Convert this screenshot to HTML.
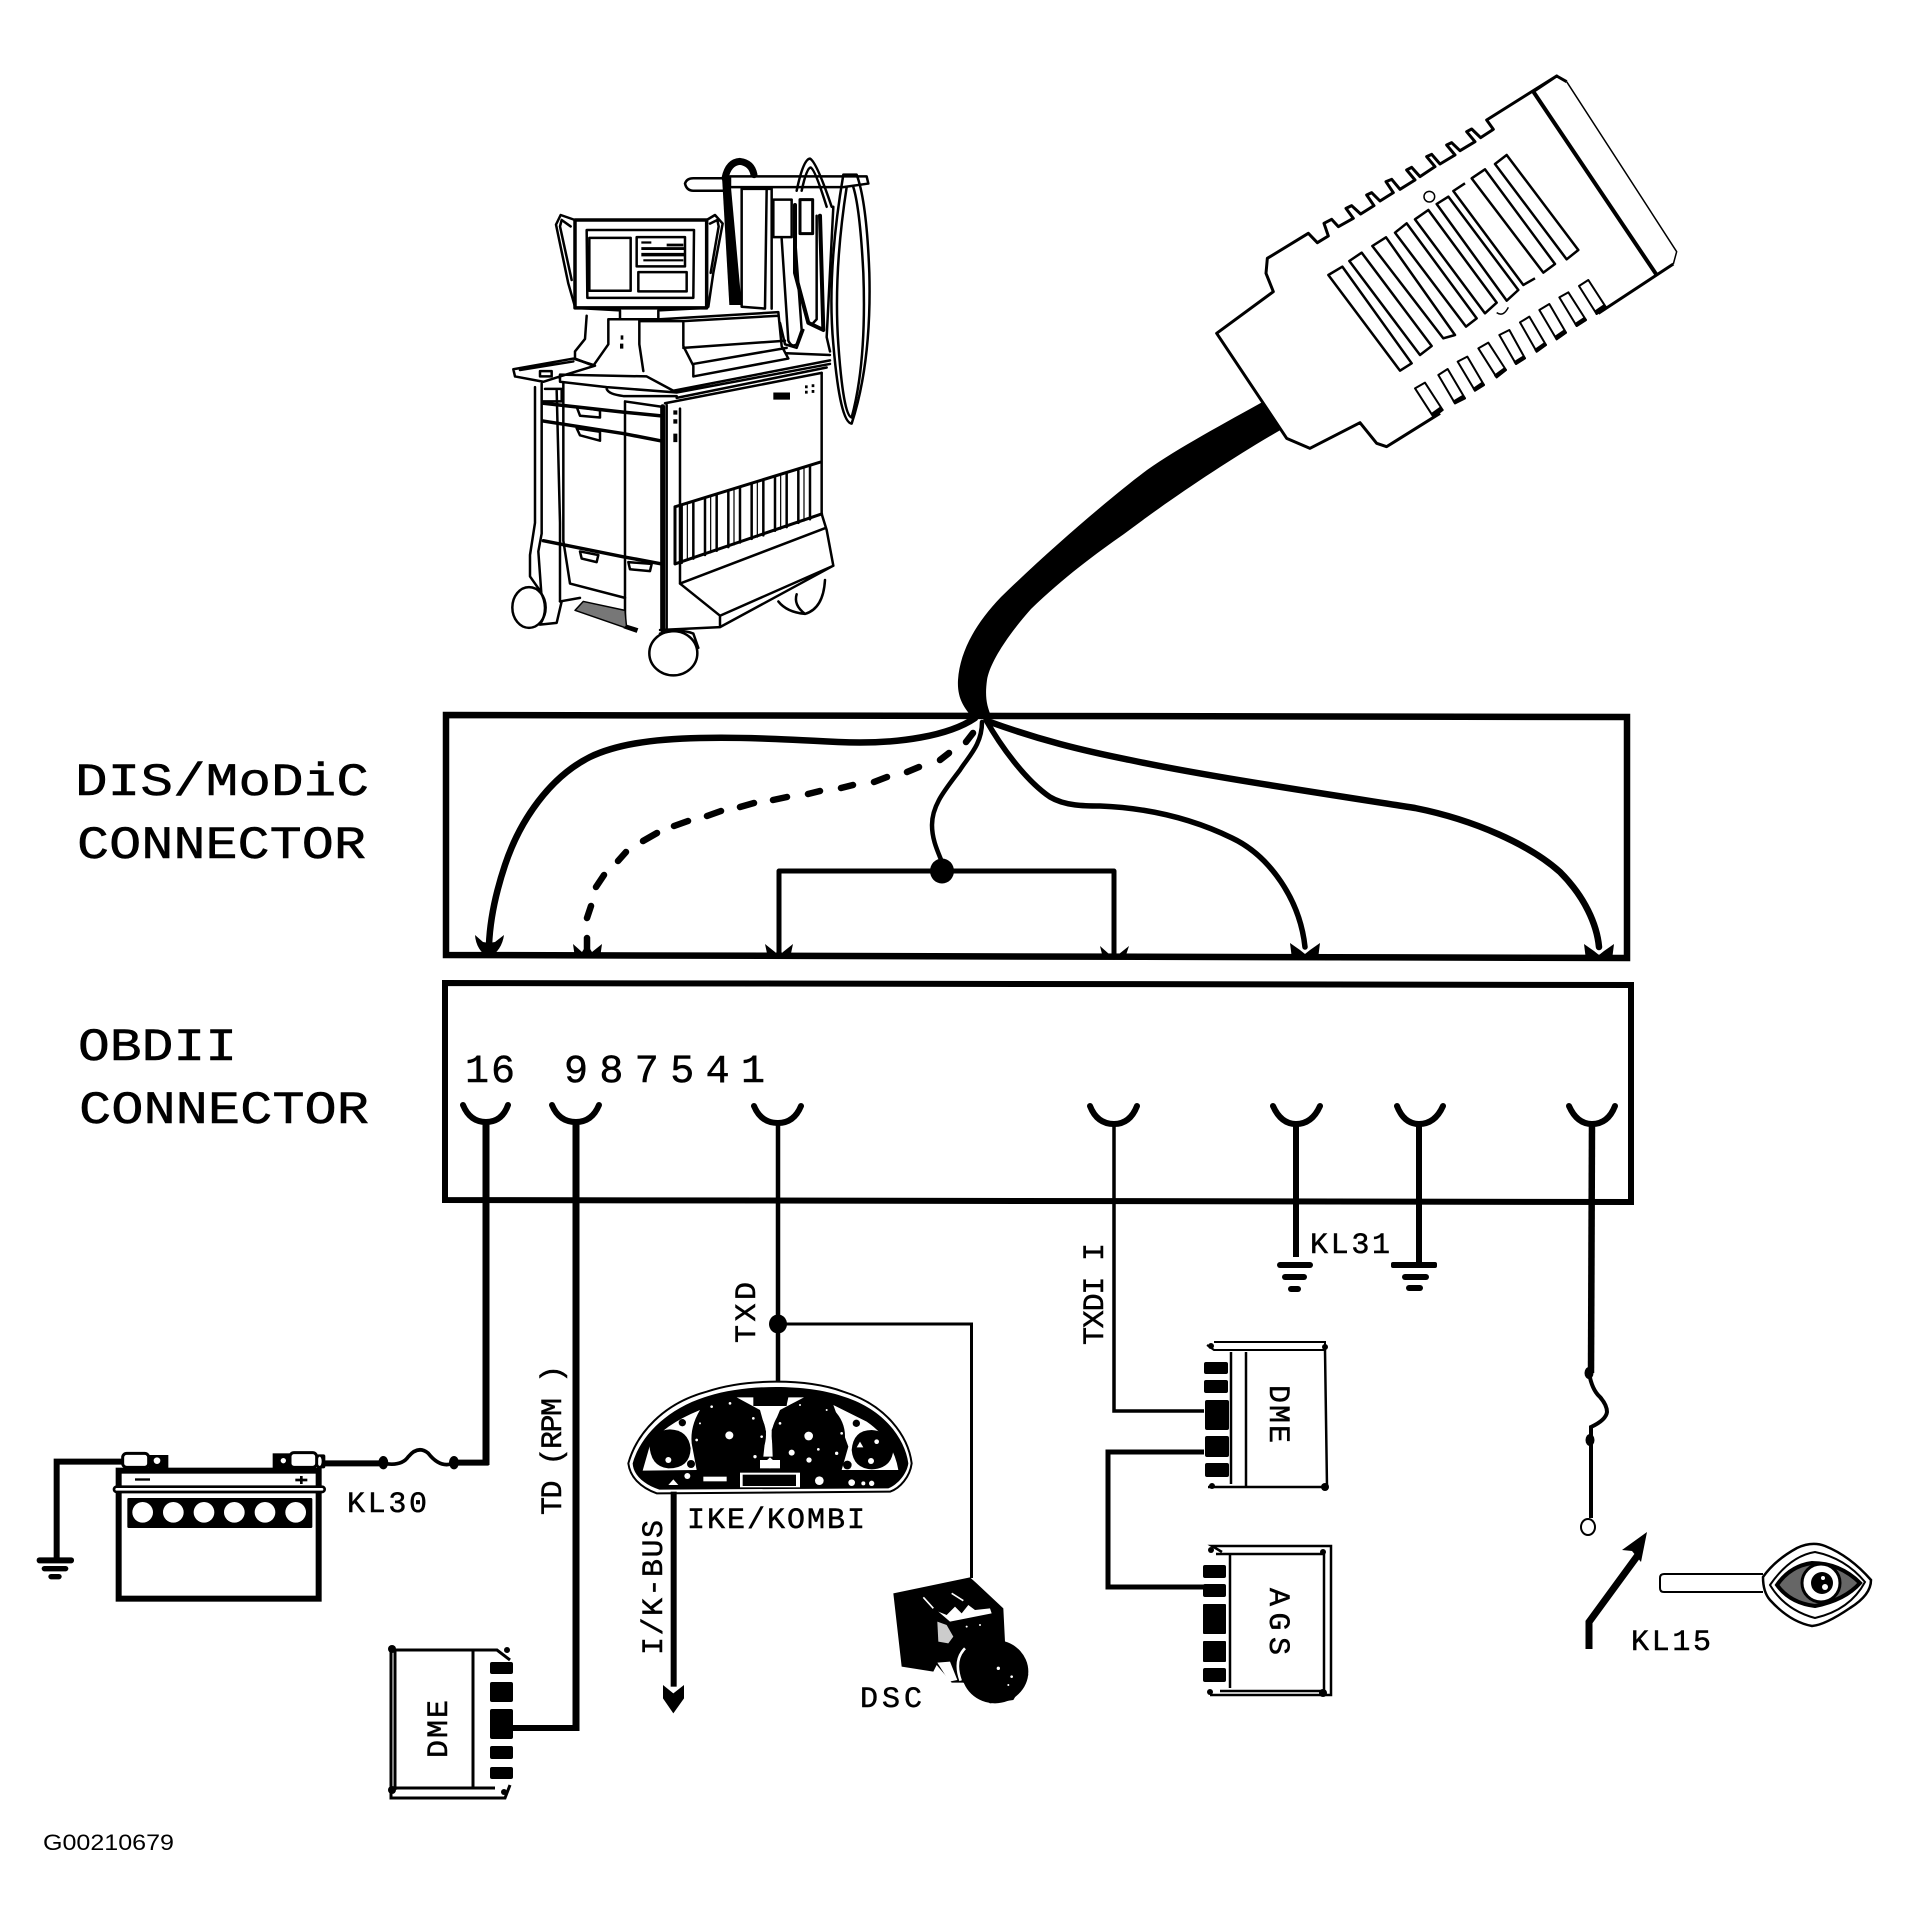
<!DOCTYPE html>
<html><head><meta charset="utf-8"><style>
html,body{margin:0;padding:0;background:#fff}
svg{display:block}
.n *{vector-effect:non-scaling-stroke}
text{font-family:"Liberation Mono",monospace;fill:#000;stroke:#000;stroke-width:.5px}
</style></head><body>
<svg width="1909" height="1927" viewBox="0 0 1909 1927" xmlns="http://www.w3.org/2000/svg">
<rect width="1909" height="1927" fill="#fff"/>

<!-- Cart -->
<g class="n" transform="translate(480,130) scale(.33333,.35714)" fill="none" stroke="#000" stroke-width="2.5" stroke-linejoin="round" stroke-linecap="round">
<path stroke-width="3.5" d="M285,252H680V498H285Z"/>
<path stroke-width="2.5" d="M320,280H642L640,470H322Z M328,302H452V450H328Z M470,300H615V382H470Z M475,398H620V452H475Z"/>
<path stroke-width="2.5" d="M285,252 L242,238 L228,265 L265,430 L285,495 M272,270 L245,252 L240,270 L275,420 M680,252 L705,238 L728,262 L700,400 L685,495 M690,262 L712,252 L716,270 L692,400"/>
<path fill="#000" stroke="none" d="M484,312h30v6h-30zM484,328h130v8h-130zM484,344h130v10h-130zM490,362h120v6h-120zM560,318h50v8h-50z"/>
<path d="M285,498 L420,505 V530 H535 V505 L680,498 M320,520 L315,585 L285,620 L285,640 L340,660 L385,600 V530 H478 V600 L490,675 M478,535 H610 V605 L640,660 V690 M540,530 L895,510 L905,605 L925,640 L640,690 M610,535 L895,520 M610,610 L915,590 M640,655 L920,610"/>
<path fill="#000" stroke="none" d="M422,575h8v12h-8zM420,598h10v14h-10z"/>
<path stroke-width="7" d="M735,135 Q745,90 780,88 Q815,92 822,125"/>
<path fill="#000" stroke="none" d="M726,130 L750,130 L785,490 L748,490 Z"/>
<path d="M785,165 H860 L855,500 L785,495 Z M860,165 L875,165 V500 M750,130 H1160 L1165,150 L1090,160 L750,160 Z M615,150 Q620,135 640,135 H745 V170 H640 Q620,170 615,150Z"/>
<path stroke-width="2.5" d="M880,195 H935 V300 H880 Z M905,305 L925,590 Q935,610 950,600 L965,560 L945,300"/>
<path d="M900,540 L915,600 L950,610 L970,560"/>
<path stroke-width="3" d="M960,195 H998 V290 H960 Z"/>
<path stroke-width="4" d="M945,210 L945,400 L985,540 L1030,560 L1020,240"/>
<path d="M1010,240 L1010,530 L1000,540 M950,170 Q970,80 990,80 Q1010,90 1055,215 M965,170 Q980,105 992,105 Q1005,110 1040,215 M1060,215 L1040,580 L1050,620"/>
<path stroke-width="2.5" d="M1090,125 Q1040,400 1060,600 Q1080,820 1115,822 Q1175,650 1168,400 Q1160,200 1130,125 Z"/>
<path d="M1100,160 Q1060,400 1075,600 Q1090,800 1115,805 Q1160,650 1150,400 Q1140,220 1120,160"/>

<path stroke-width="2.5" d="M100,670 L280,640 L340,658 M105,690 L190,705 L240,690 L345,660 M120,672 L280,648 M100,670 L105,690 M240,685 L500,690 L580,730 L1050,645 M240,685 V705 L380,720 L590,735 L1050,655 M380,725 Q385,740 430,745 L590,745 M555,765 L1025,680 M590,750 L1040,665 M920,625 L1050,630"/>
<path fill="#fff" d="M180,675h35v15h-35z"/>
<path d="M165,720 V1100 L150,1190 V1250 L180,1290 M185,710 V1130 L175,1180 L185,1310 M230,730 L240,1100 V1320 M250,710 V1150 L270,1270 L435,1310 M195,725 H245 V760 H190"/>
<path stroke-width="3.5" d="M190,765 L430,790 L540,800 M190,815 L430,850 L540,870 M190,1150 L430,1195 L545,1215"/>
<path d="M290,775 L360,785 L360,805 L300,800 Z M290,835 L360,845 L360,870 L300,855 Z M300,1180 L355,1190 L350,1210 L305,1200 Z M445,1210 L515,1215 L510,1235 L450,1230 Z M435,760 V1390 M435,760 L545,775"/>
<path stroke-width="5" d="M548,775 V1400"/>
<path d="M600,780 V1270 M560,770 V1400 M1025,680 V1075 L1040,1120 L1060,1220 L720,1392 L540,1400 M600,1270 L1035,1115 M600,1270 L720,1360 V1392 M720,1360 L1060,1220 M240,1320 L300,1310"/>
<path stroke-width="3" d="M585,1055 L1020,930 M585,1215 L1025,1075 M585,1055 V1215"/>
<path stroke-width="2.5" d="M605,1050V1212M640,1040V1200M675,1030V1190M710,1020V1178M745,1010V1168M780,1000V1155M815,990V1145M850,980V1135M885,970V1122M920,960V1112M955,950V1100M990,940V1090"/>
<path d="M622,1045V1205M692,1025V1184M762,1005V1162M832,985V1140M902,965V1118M972,945V1095" stroke-width="1.2"/>
<path fill="#777" stroke="#000" stroke-width="1.5" d="M310,1320 L435,1345 L440,1395 L285,1345 Z"/>
<path fill="#000" stroke="none" d="M880,735h50v20h-50zM580,785h12v12h-12zM580,810h12v12h-12zM580,850h12v24h-12zM975,715h8v8h-8zM995,712h8v8h-8zM975,730h8v8h-8zM995,728h8v8h-8z"/>
<path fill="#000" stroke="none" d="M440,1385 L475,1395 L470,1408 L430,1395Z"/>
<ellipse cx="147" cy="1337" rx="50" ry="57" fill="#fff" stroke-width="2.5"/>
<path d="M180,1290 Q210,1340 180,1385 L230,1380 L245,1320"/>
<path stroke-width="2.5" d="M895,1320 Q920,1350 975,1355 Q1030,1340 1035,1260 M950,1300 Q940,1330 975,1355"/>
<ellipse cx="580" cy="1465" rx="72" ry="62" fill="#fff" stroke-width="2.5"/>
<path d="M540,1410 Q600,1395 640,1410 L655,1450"/>
</g>

<!-- Cable -->
<path fill="#000" d="M1266,400 C1225,423 1178,448 1147,470 C1112,496 1047,552 1001,597 C977,622 960,650 958,680 C957,698 964,708 973,718 L992,718 C986,705 985,695 987,680 C990,662 1008,635 1031,609 C1063,578 1098,552 1124,534 C1165,503 1228,460 1284,428 Z"/>

<!-- OBD diagnostic connector head -->
<g class="n" transform="translate(1180,60) scale(.33333)" fill="none" stroke="#000" stroke-width="3" stroke-linejoin="round">
<path fill="#fff" stroke="none" d="M110,820 L280,695 L258,640 L262,595 L385,520 L1130,48 L1160,65 L1490,575 L1480,612 L620,1160 L590,1150 L540,1088 L390,1165 L320,1135Z"/>
<path d="M1160,65 L1490,575 L1480,612" stroke-width="1.5"/>
<path d="M1480,612 L1255,760"/>
<path d="M1130,48 L1160,65 M1060,95 L1130,48 L920,180 L940,208 L902,233 L875,207 L860,215 L885,245 L840,272 L815,248 L800,255 L825,285 L780,312 L755,283 L740,290 L765,320 L720,350 L695,322 L680,330 L705,360 L660,388 L635,358 L618,365 L640,398 L600,423 L575,398 L560,405 L582,437 L542,462 L515,437 L498,445 L520,475 L475,500 L455,478 L432,490 L445,528 L412,548 L385,520 L262,595 L258,640 L280,695 L110,820 L320,1135 L390,1165 L540,1088 L590,1150 L620,1160 L780,1060"/>
<path d="M1060,95 L1430,645" stroke-width="4"/>
<path stroke-width="2.5" d="M445,645 L487,620 L695,910 L660,932 Z M508,603 L545,578 L755,858 L720,885 Z M577,558 L618,532 L825,825 L790,835 Z M645,518 L680,490 L890,775 L858,800 Z M705,478 L745,450 L950,728 L915,760 Z M770,432 L805,410 L1015,690 L980,722 Z M855,370 L820,393 L1030,675 L1065,655 M875,355 L915,328 L1125,612 L1090,638 Z M945,312 L980,285 L1195,570 L1160,598 Z"/>
<circle cx="748" cy="410" r="16" stroke-width="1.5"/>
<path d="M950,758 Q970,772 985,742" stroke-width="1.5"/>
<g stroke-width="2">
<path d="M705,985 L735,968 L788,1050 L760,1070 Z"/><path fill="#000" d="M755,1062 L780,1044 L788,1050 L762,1070Z"/>
<path d="M775,945 L803,927 L855,1015 L825,1030 Z"/><path fill="#000" d="M821,1024 L848,1008 L855,1015 L825,1030Z"/>
<path d="M833,905 L862,890 L912,975 L885,992 Z"/><path fill="#000" d="M881,986 L907,968 L912,975 L885,992Z"/>
<path d="M895,865 L925,848 L978,930 L950,952 Z"/><path fill="#000" d="M945,946 L972,926 L978,930 L950,952Z"/>
<path d="M958,825 L988,810 L1035,895 L1008,912 Z"/><path fill="#000" d="M1004,906 L1030,890 L1035,895 L1008,912Z"/>
<path d="M1020,787 L1048,770 L1098,855 L1070,875 Z"/><path fill="#000" d="M1066,869 L1093,850 L1098,855 L1070,875Z"/>
<path d="M1078,750 L1108,732 L1158,818 L1130,838 Z"/><path fill="#000" d="M1126,830 L1152,812 L1158,818 L1130,838Z"/>
<path d="M1138,712 L1165,697 L1218,780 L1190,798 Z"/><path fill="#000" d="M1186,792 L1213,774 L1218,780 L1190,798Z"/>
<path d="M1197,678 L1225,660 L1278,742 L1250,762 Z"/><path fill="#000" d="M1246,754 L1272,736 L1278,742 L1250,762Z"/>
</g>
</g>

<!-- DIS box -->
<g fill="none" stroke="#000" stroke-linecap="round" stroke-linejoin="round">
<path d="M446,715 L1627,717 V958 L446,955 Z" stroke-width="6.5" stroke-linejoin="miter"/>
<path stroke-width="6.5" d="M975,718 C950,735 900,745 838,742 C780,739 740,737 700,738 C650,739 615,745 590,757 C550,777 520,820 505,865 C495,895 490,920 489,945"/>
<path stroke-width="4.5" d="M982,722 C982,745 968,757 960,770 C945,790 932,805 932,825 C932,840 938,852 942,862"/>
<path stroke-width="5.5" d="M986,720 C1000,745 1025,780 1050,797 C1065,806 1085,806 1100,806 C1150,808 1195,820 1232,838 C1270,856 1300,900 1305,947"/>
<path stroke-width="6.5" d="M990,722 C1040,740 1080,750 1130,760 C1200,775 1300,790 1415,808 C1475,820 1530,845 1560,872 C1585,897 1597,925 1599,947"/>
<path stroke-width="6.5" d="M966,742L973,733M940,760L949,753M907,772L919,767M874,782L887,777M841,788L853,785M808,794L820,791M773,800L787,797M740,807L754,803M707,816L721,811M674,826L688,821M643,841L657,833M618,861L626,852M596,887L604,875M587,918L591,906M587,938V953"/>
<path stroke-width="5" stroke-linecap="butt" d="M779,955 V871 H1114 V956"/>
</g>
<ellipse cx="942" cy="871" rx="12" ry="12.5" fill="#000"/>
<g fill="#000">
<path d="M475,935 Q476,950 489,958 Q502,950 504,935 L495,942 L489,943 L483,942Z"/>
<path d="M573,944 L575,958 L600,958 L602,944 L592,952 L587,944 L582,952Z"/>
<path d="M765,944 L768,958 L790,958 L793,944 L783,952 L779,958 L775,952Z"/>
<path d="M1100,946 L1103,958 L1125,958 L1129,946 L1119,954 L1114,960 L1109,954Z"/>
<path d="M1290,943 L1292,959 L1318,959 L1320,943 L1310,950 L1305,954 L1300,950Z"/>
<path d="M1584,944 L1586,960 L1612,960 L1614,944 L1604,951 L1599,955 L1594,951Z"/>
</g>

<!-- OBD box -->
<g fill="none" stroke="#000">
<path d="M445,983 L1631,985 V1202 L445,1200 Z" stroke-width="6" />
<g stroke-width="6" stroke-linecap="round">
<path d="M463,1105 Q470,1122 486,1122 Q502,1122 508,1105"/>
<path d="M552,1105 Q559,1122 576,1122 Q592,1122 599,1105"/>
<path d="M754,1106 Q761,1123 778,1123 Q794,1123 801,1106"/>
<path d="M1090,1106 Q1097,1124 1114,1124 Q1130,1124 1137,1106"/>
<path d="M1273,1106 Q1281,1124 1296,1124 Q1312,1124 1320,1106"/>
<path d="M1397,1106 Q1404,1124 1419,1124 Q1435,1124 1443,1106"/>
<path d="M1569,1106 Q1577,1124 1592,1124 Q1608,1124 1615,1106"/>
</g>
<path stroke-width="7" d="M486,1122 V1465 M576,1122 V1731"/>
<path stroke-width="6" d="M576,1728 H513"/>
<path stroke-width="4.5" d="M778,1122 V1382"/>
<path stroke-width="3" d="M778,1324 H971.5 V1578"/>
<path stroke-width="3.5" d="M1114,1122 V1411 H1204"/>
<path stroke-width="5" d="M1204,1452 H1108 V1587 H1204"/>
<path stroke-width="6" d="M1296,1122 V1257 M1419,1122 V1265"/>
<path stroke-width="6.5" d="M1592,1122 L1591,1373"/>
<path stroke-width="4" d="M1589,1373 Q1592,1390 1600,1397 Q1607,1405 1607,1412 Q1606,1420 1591,1427 V1518"/>
</g>
<ellipse cx="778" cy="1324" rx="9" ry="9.5" fill="#000"/>
<ellipse cx="1589" cy="1373" rx="4.5" ry="6" fill="#000"/>
<ellipse cx="1590" cy="1440" rx="4.5" ry="6" fill="#000"/>
<ellipse cx="1588" cy="1527" rx="7" ry="8" fill="#fff" stroke="#000" stroke-width="2"/>
<!-- grounds -->
<g fill="#000">
<rect x="1277" y="1262" width="36" height="6" rx="3"/><rect x="1282" y="1274" width="25" height="6" rx="3"/><rect x="1288" y="1286" width="13" height="6" rx="3"/>
<rect x="1391" y="1262" width="46" height="6" rx="2"/><rect x="1402" y="1274" width="27" height="6" rx="3"/><rect x="1406" y="1285" width="17" height="6" rx="3"/>
</g>

<!-- switch -->
<path d="M1589,1649 V1622 L1638,1555" fill="none" stroke="#000" stroke-width="7"/>
<path d="M1647,1532 L1622,1550 L1632,1551 L1641,1562 L1643,1552Z" fill="#000"/>
<!-- key -->
<g fill="none" stroke="#000" stroke-width="2">
<path d="M1763,1574 H1664 Q1660,1574 1660,1578 V1588 Q1660,1592 1664,1592 H1763"/>
<path stroke-width="2.5" d="M1763,1577 Q1775,1560 1797,1548 Q1812,1541 1825,1546 Q1850,1556 1871,1580 Q1871,1595 1850,1608 Q1825,1625 1812,1626 Q1790,1622 1770,1600 Q1763,1592 1763,1577Z"/>
<path d="M1770,1585 Q1790,1556 1815,1552 Q1845,1558 1865,1582 Q1850,1610 1815,1618 Q1785,1610 1770,1585Z"/>
<path fill="#666" stroke="#000" stroke-width="4" d="M1777,1585 Q1790,1566 1812,1563 Q1840,1563 1860,1583 Q1845,1600 1815,1606 Q1790,1603 1777,1585Z"/>
<ellipse cx="1821" cy="1583" rx="19" ry="19" fill="#fff" stroke-width="3"/>
<circle cx="1822" cy="1583" r="11" fill="#000" stroke="none"/>
<circle cx="1825" cy="1587" r="3" fill="#fff" stroke="none"/><circle cx="1823" cy="1578" r="2" fill="#fff" stroke="none"/>
</g>

<!-- Battery -->
<g transform="translate(20,1420) scale(.33333)">
<path d="M110,415 V125 H305" fill="none" stroke="#000" stroke-width="18"/>
<rect x="50" y="412" width="112" height="18" rx="8"/><rect x="65" y="438" width="80" height="16" rx="8"/><rect x="85" y="462" width="40" height="16" rx="8"/>
<rect x="296" y="152" width="600" height="384" fill="#fff" stroke="#000" stroke-width="18"/>
<rect x="310" y="165" width="575" height="28" fill="#fff"/>
<rect x="282" y="200" width="632" height="16" rx="8" fill="#fff" stroke="#000" stroke-width="8"/>
<rect x="322" y="234" width="555" height="90" rx="4"/>
<g fill="#fff"><circle cx="368" cy="277" r="31"/><circle cx="460" cy="277" r="31"/><circle cx="552" cy="277" r="31"/><circle cx="643" cy="277" r="31"/><circle cx="735" cy="277" r="31"/><circle cx="827" cy="277" r="31"/></g>
<rect x="345" y="175" width="45" height="7"/><rect x="826" y="176" width="36" height="8"/><rect x="840" y="168" width="8" height="24"/>
<rect x="385" y="105" width="60" height="42"/><circle cx="411" cy="122" r="10" fill="#fff"/>
<rect x="308" y="100" width="78" height="42" rx="12" fill="#fff" stroke="#000" stroke-width="9"/>
<rect x="758" y="100" width="55" height="45"/><circle cx="790" cy="122" r="8" fill="#fff"/>
<rect x="890" y="103" width="26" height="42" rx="6"/><ellipse cx="899" cy="124" rx="6" ry="14" fill="#fff"/>
<rect x="810" y="98" width="80" height="44" rx="12" fill="#fff" stroke="#000" stroke-width="9"/>
<path d="M915,130 H1090 M1300,128 H1397 V0" fill="none" stroke="#000" stroke-width="18"/>
<path d="M1090,130 Q1145,140 1165,110 Q1195,75 1225,100 Q1260,145 1300,130" fill="none" stroke="#000" stroke-width="11"/>
<ellipse cx="1090" cy="128" rx="15" ry="20"/><ellipse cx="1302" cy="128" rx="15" ry="20"/>
</g>

<!-- Instrument cluster and DSC -->
<g transform="translate(600,1360) scale(.33333)">
<path d="M85,310 C110,220 190,130 320,95 C440,55 620,55 730,95 C860,135 925,230 935,310 C930,350 900,385 870,395 L170,400 C120,382 90,350 85,310Z" fill="#fff" stroke="#000" stroke-width="6"/>
<path d="M98,310 C120,230 200,145 325,108 C440,72 620,72 725,108 C850,145 915,235 925,310 C920,345 890,375 865,385 L178,389 C130,372 100,345 98,310Z"/>
<g fill="#fff">
<path d="M128,332 L150,255 Q190,195 300,150 Q270,200 275,250 L290,330Z"/>
<path d="M700,135 L800,185 Q880,240 895,330 L725,330 L745,260Z"/>
<path d="M410,112 L462,112 V135 H560 L565,112 L612,112 L540,150 L515,210 L518,290 L490,290 L498,215 L480,150Z"/>
<rect x="480" y="300" width="60" height="25"/>
<rect x="420" y="338" width="180" height="44"/>
</g>
<path d="M148,250 Q150,320 205,325 Q270,325 272,265 Q265,210 210,208 Q165,210 148,250Z"/>
<ellipse cx="388" cy="225" rx="110" ry="108"/><ellipse cx="625" cy="228" rx="110" ry="108"/>
<path d="M755,270 Q760,210 815,210 Q875,215 880,270 Q875,325 815,328 Q760,325 755,270Z"/>
<rect x="428" y="344" width="160" height="34"/>
<g fill="#fff">
<circle cx="388" cy="226" r="12"/><circle cx="626" cy="228" r="13"/><circle cx="205" cy="300" r="9"/><circle cx="813" cy="303" r="9"/><circle cx="830" cy="245" r="7"/><circle cx="262" cy="348" r="9"/><circle cx="658" cy="362" r="13"/><circle cx="627" cy="300" r="8"/><circle cx="575" cy="278" r="9"/><circle cx="815" cy="370" r="8"/><circle cx="790" cy="370" r="6"/><circle cx="755" cy="368" r="10"/><path d="M205,375 L220,358 L235,375Z"/><path d="M490,310 L510,292 L530,310 L510,325Z"/><path d="M770,262 L780,245 L790,262Z"/>
<rect x="310" y="350" width="70" height="14"/>
</g>
<circle cx="247" cy="188" r="11"/><circle cx="769" cy="190" r="11"/><circle cx="742" cy="315" r="13"/><circle cx="273" cy="312" r="12"/>
<rect x="460" y="108" width="100" height="30" />
<g fill="#fff"><circle cx="300" cy="190" r="3"/><circle cx="335" cy="140" r="4"/><circle cx="390" cy="130" r="4"/><circle cx="460" cy="175" r="4"/><circle cx="485" cy="230" r="4"/><circle cx="290" cy="240" r="4"/><circle cx="465" cy="290" r="5"/><circle cx="540" cy="190" r="4"/><circle cx="600" cy="135" r="3"/><circle cx="680" cy="150" r="3"/><circle cx="725" cy="220" r="4"/><circle cx="710" cy="280" r="5"/><circle cx="655" cy="268" r="4"/></g>

<path d="M880,700 L1110,652 L1130,670 L1210,745 L1215,845 L1250,865 L1285,945 L1240,1020 L1170,1030 L1090,968 L1055,968 L1010,915 L1000,935 L905,920Z"/>
<ellipse cx="1185" cy="935" rx="100" ry="95"/>
<path fill="#fff" d="M1015,755 L1040,765 L1065,740 L1085,760 L1105,735 L1125,750 L1170,745 L1175,760 L1050,785Z"/>
<path fill="#ccc" d="M1012,785 L1040,795 L1060,830 L1045,850 L1015,845Z"/>
<path fill="#fff" d="M1012,908 L1048,965 L1072,960 L1050,905 Z"/>
<path fill="none" stroke="#fff" stroke-width="8" d="M1095,865 Q1060,900 1082,962"/>
<path fill="none" stroke="#fff" stroke-width="5" d="M970,712 L1000,745 M1055,700 L1090,722"/>
<g fill="#fff"><circle cx="1195" cy="925" r="5"/><circle cx="1235" cy="950" r="4"/><circle cx="1225" cy="975" r="3"/><circle cx="1100" cy="800" r="3"/><circle cx="1140" cy="795" r="3"/></g>
<rect x="212" y="395" width="18" height="585"/>
<path d="M189,975 L220,1000 L252,975 L252,1015 L220,1060 L189,1015Z"/>
</g>

<!-- modules -->
<g fill="none" stroke="#000">
<path d="M389,1650 H497 L510,1660 M391,1650 V1798 H505 L510,1785 M395,1788 H495 M395,1650 V1790" stroke-width="3"/>
<path d="M473,1650 V1788" stroke-width="3"/>
<path d="M1214,1342 H1325 V1350 H1214 L1207,1345" stroke-width="2"/>
<path d="M1325,1350 L1327,1487 H1208 M1231,1352 V1484 M1246,1352 V1486" stroke-width="2.5"/>
<path d="M1222,1552 L1212,1546 H1331 V1695 H1210 M1216,1554 H1324 V1691 H1220 M1230,1554 V1688" stroke-width="2.5"/>
</g>
<g fill="#000">
<circle cx="392" cy="1649" r="4"/><circle cx="392" cy="1790" r="4"/><circle cx="504" cy="1792" r="3"/><circle cx="507" cy="1650" r="3"/>
<rect x="490" y="1662" width="23" height="12" rx="2"/><rect x="490" y="1682" width="23" height="20" rx="2"/><rect x="490" y="1709" width="23" height="30" rx="2"/><rect x="490" y="1746" width="23" height="13" rx="2"/><rect x="490" y="1767" width="23" height="12" rx="2"/>
<rect x="1204" y="1362" width="24" height="12" rx="2"/><rect x="1204" y="1380" width="24" height="13" rx="2"/><rect x="1205" y="1400" width="24" height="30" rx="2"/><rect x="1205" y="1436" width="24" height="21" rx="2"/><rect x="1205" y="1463" width="24" height="14" rx="2"/>
<circle cx="1325" cy="1487" r="4"/><circle cx="1325" cy="1347" r="3"/><circle cx="1212" cy="1486" r="3"/><circle cx="1211" cy="1346" r="3"/>
<rect x="1203" y="1565" width="23" height="13" rx="2"/><rect x="1203" y="1584" width="23" height="13" rx="2"/><rect x="1203" y="1604" width="23" height="30" rx="1"/><rect x="1203" y="1641" width="23" height="21" rx="1"/><rect x="1203" y="1668" width="23" height="14" rx="2"/>
<circle cx="1323" cy="1693" r="4"/><circle cx="1323" cy="1552" r="3"/><circle cx="1211" cy="1550" r="3"/><circle cx="1210" cy="1692" r="3"/>
</g>

<!-- text -->
<text x="75" y="795" font-size="46" textLength="294" lengthAdjust="spacingAndGlyphs">DIS/MoDiC</text>
<text x="77" y="858" font-size="46" textLength="289" lengthAdjust="spacingAndGlyphs">CONNECTOR</text>
<text x="78" y="1060" font-size="46" textLength="159" lengthAdjust="spacingAndGlyphs">OBDII</text>
<text x="79" y="1123" font-size="46" textLength="290" lengthAdjust="spacingAndGlyphs">CONNECTOR</text>
<text x="465" y="1082" font-size="40" textLength="50" lengthAdjust="spacing">16</text>
<text x="564" y="1082" font-size="40" textLength="201" lengthAdjust="spacing">987541</text>
<text x="347" y="1512" font-size="30" textLength="80" lengthAdjust="spacing">KL30</text>
<text x="1310" y="1253" font-size="30" textLength="80" lengthAdjust="spacing">KL31</text>
<text x="1631" y="1650" font-size="30" textLength="80" lengthAdjust="spacing">KL15</text>
<text x="687" y="1528" font-size="30" textLength="178" lengthAdjust="spacing">IKE/KOMBI</text>
<text x="860" y="1707" font-size="30" textLength="62" lengthAdjust="spacing">DSC</text>
<text transform="translate(662,1655) rotate(-90)" font-size="30" textLength="135" lengthAdjust="spacing">I/K-BUS</text>
<text transform="translate(755,1343) rotate(-90)" font-size="30" textLength="61" lengthAdjust="spacing">TXD</text>
<text transform="translate(1103,1345) rotate(-90)" font-size="30" textLength="102" lengthAdjust="spacing">TXDI I</text>
<text transform="translate(561,1515) rotate(-90)" font-size="30" textLength="150" lengthAdjust="spacing">TD (RPM )</text>
<text transform="translate(447,1758) rotate(-90)" font-size="30" textLength="58" lengthAdjust="spacing">DME</text>
<text transform="translate(1270,1385) rotate(90)" font-size="30" textLength="58" lengthAdjust="spacing">DME</text>
<text transform="translate(1270,1588) rotate(90)" font-size="30" textLength="67" lengthAdjust="spacing">AGS</text>
<text x="43" y="1850" font-size="22" textLength="131" lengthAdjust="spacingAndGlyphs" style="font-family:'Liberation Sans',sans-serif;stroke:none">G00210679</text>
</svg>
</body></html>
